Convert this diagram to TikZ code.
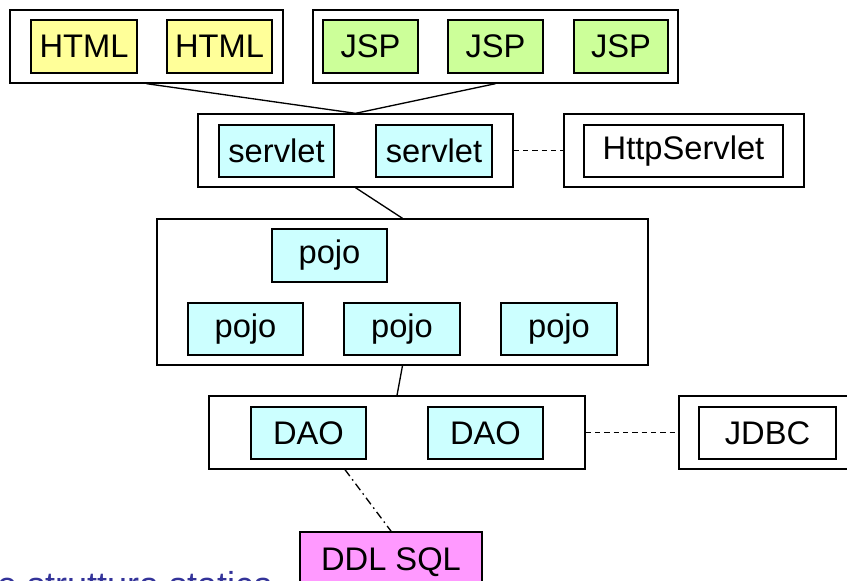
\documentclass[tikz,border=0pt]{standalone}
\usepackage{fontspec}
\setmainfont{Liberation Sans}
\usetikzlibrary{calc}
\definecolor{htmlyel}{HTML}{FFFF99}
\definecolor{jspgreen}{HTML}{CCFF99}
\definecolor{javacyan}{HTML}{CCFFFF}
\definecolor{sqlpink}{HTML}{FF99FF}
\definecolor{titleblue}{HTML}{333399}

\begin{document}
\begin{tikzpicture}[x=0.75pt,y=-0.75pt,font=\fontsize{24.5}{28}\selectfont,
  group/.style={draw,line width=1pt,fill=white,inner sep=0pt,minimum height=54.75pt},
  part/.style={draw,line width=1.3pt,inner sep=0pt,minimum height=39.5pt},
  link/.style={line width=1pt},
  dep/.style={line width=1pt,dash pattern=on 4pt off 3pt},
  persist/.style={line width=1pt,dash pattern=on 6pt off 3pt on 1.2pt off 3pt}]
\useasboundingbox (0,0) rectangle (847,581);
\clip (0,0) rectangle (847,581);
% view layer
\node[group,minimum width=204.75pt] (webgrp) at (146.5,46.5) {};
\node[part,fill=htmlyel,minimum width=79.5pt] (html1) at (84,46.5) {HTML};
\node[part,fill=htmlyel,minimum width=78.75pt] (html2) at (219.5,46.5) {HTML};
\node[group,minimum width=273.75pt] (jspgrp) at (495.5,46.5) {};
\node[part,fill=jspgreen,minimum width=71.25pt] (jsp1) at (370.5,46.5) {JSP};
\node[part,fill=jspgreen,minimum width=71.25pt] (jsp2) at (495.5,46.5) {JSP};
\node[part,fill=jspgreen,minimum width=70.5pt] (jsp3) at (621,46.5) {JSP};
% controller layer
\node[group,minimum width=236.25pt] (ctrlgrp) at (355.5,150.5) {};
\node[part,fill=javacyan,minimum width=86.25pt] (servlet1) at (276.5,151) {servlet};
\node[part,fill=javacyan,minimum width=87pt] (servlet2) at (434,151) {servlet};
\node[group,minimum width=180pt] (httpgrp) at (684,150.5) {};
\node[part,minimum width=149.25pt] (httpservlet) at (683.5,151) {HttpServlet};
% model layer
\node[group,minimum width=368.25pt,minimum height=109.5pt] (pojogrp) at (402.5,292) {};
\node[part,fill=javacyan,minimum width=86.25pt] (pojo0) at (329.5,255.5) {pojo};
\node[part,fill=javacyan,minimum width=86.25pt] (pojo1) at (245.5,329) {pojo};
\node[part,fill=javacyan,minimum width=87pt] (pojo2) at (402,329) {pojo};
\node[part,fill=javacyan,minimum width=87pt] (pojo3) at (559,329) {pojo};
% persistence layer
\node[group,minimum width=282pt] (daogrp) at (397,432.5) {};
\node[part,fill=javacyan,minimum width=86.25pt] (dao1) at (308.5,433) {DAO};
\node[part,fill=javacyan,minimum width=86.25pt] (dao2) at (485.5,433) {DAO};
\node[group,minimum width=139.5pt] (jdbcgrp) at (772,432.5) {};
\node[part,minimum width=102.75pt] (jdbc) at (767.5,433) {JDBC};
\node[part,fill=sqlpink,minimum width=136.5pt,minimum height=40.5pt,text depth=0pt] (ddl) at (391,559) {DDL SQL};
\coordinate (daoout) at ($(daogrp.south)+(-52,0)$);
% connectors
\draw[link] (webgrp.south) -- (ctrlgrp.north);
\draw[link] (jspgrp.south) -- (ctrlgrp.north);
\draw[link] (ctrlgrp.south) -- (pojogrp.north);
\draw[link] (pojogrp.south) -- (daogrp.north);
\draw[dep] (ctrlgrp.east) -- (httpgrp.west);
\draw[dep] (daogrp.east) -- (jdbcgrp.west);
\draw[persist] (daoout) -- (ddl.north);
\node[anchor=base east,text=titleblue,font=\fontsize{27}{32}\selectfont] (caption) at (278,597) {e struttura statica};
\end{tikzpicture}
\end{document}
